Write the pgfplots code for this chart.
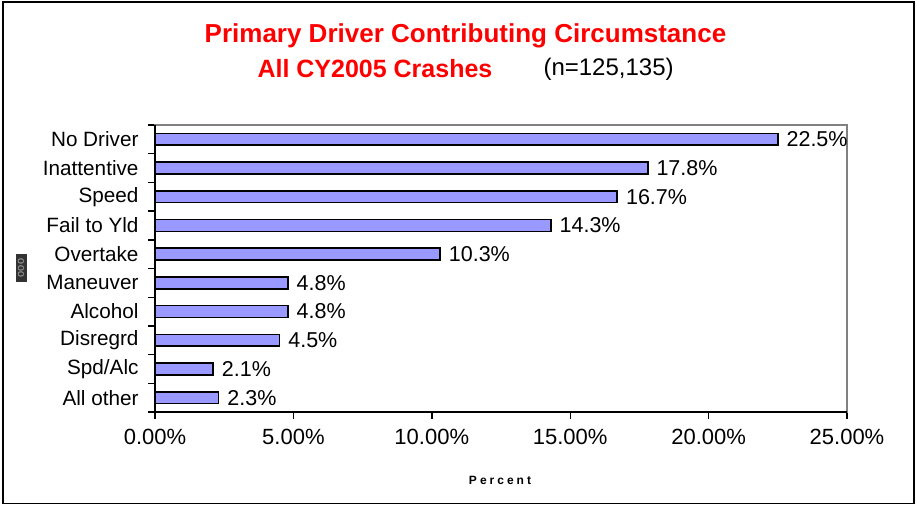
\documentclass[border=0pt]{standalone}
\usepackage{pgfplots}
\pgfplotsset{compat=1.18}
\usepackage{fontspec}
\setmainfont{Liberation Sans}
\definecolor{barfill}{HTML}{9999FF}
\definecolor{titlered}{HTML}{FF0000}
\begin{document}
\begin{tikzpicture}[x=1pt,y=1pt]
\useasboundingbox (0,0) rectangle (917,506);
\draw[line width=1.5pt] (3,2.5) rectangle (914,504);
\node[font=\fontsize{26}{30}\selectfont\bfseries, text=titlered] at (465.5,470.5) {Primary Driver Contributing Circumstance};
\node[font=\fontsize{25}{30}\selectfont\bfseries, text=titlered, anchor=west] at (254,437) {All CY2005 Crashes};
\node[font=\fontsize{24}{28}\selectfont, anchor=west] at (540,437) {(n=125,135)};
\node[font=\fontsize{12}{14}\selectfont\bfseries\addfontfeatures{LetterSpace=25}] at (500,26) {Percent};
\node[rotate=90, fill=black!80, text=gray!70, inner sep=0pt, minimum width=28pt, minimum height=11pt, font=\fontsize{11}{12}\selectfont] at (21,238) {ooo};
\begin{axis}[
  at={(155pt,94pt)}, anchor=south west,
  scale only axis, width=692pt, height=287pt,
  xmin=0, xmax=25, ymin=-0.5, ymax=9.5,
  y dir=reverse,
  xbar, bar width=0.41,
  axis line style={draw=gray, line width=1.3pt},
  xtick={0,5,10,15,20,25},
  xticklabel={\pgfmathprintnumber[fixed,precision=2,fixed zerofill]{\tick}\%},
  /pgf/number format/assume math mode=true,
  ytick={-0.5,0.5,...,9.5},
  yticklabels={},
  extra y ticks={0,...,9},
  extra y tick labels={No Driver,Inattentive,Speed,Fail to Yld,Overtake,Maneuver,Alcohol,Disregrd,Spd/Alc,All other},
  extra y tick style={major tick length=0pt, yticklabel style={font=\fontsize{20.7}{24}\selectfont, xshift=-13pt}},
  tick align=outside,
  major tick length=7pt,
  tick style={draw=black, line width=1.4pt},
  xticklabel style={font=\fontsize{22}{26}\selectfont, yshift=-7pt},
  xtick pos=bottom, ytick pos=left,
  nodes near coords={\pgfmathprintnumber[fixed,precision=1,fixed zerofill]{\pgfplotspointmeta}\%},
  nodes near coords style={font=\fontsize{21.5}{25}\selectfont, anchor=west, inner sep=2pt, xshift=6pt},
  point meta=x,
  clip=false,
]
\addplot[fill=barfill, draw=black, line width=1.6pt] coordinates {
(22.5,0) (17.8,1) (16.7,2) (14.3,3) (10.3,4) (4.8,5) (4.8,6) (4.5,7) (2.1,8) (2.3,9)};
\draw[black, line width=1.8pt] (axis cs:0,-0.5) -- (axis cs:0,9.5) -- (axis cs:25,9.5);
\end{axis}
\end{tikzpicture}
\end{document}
